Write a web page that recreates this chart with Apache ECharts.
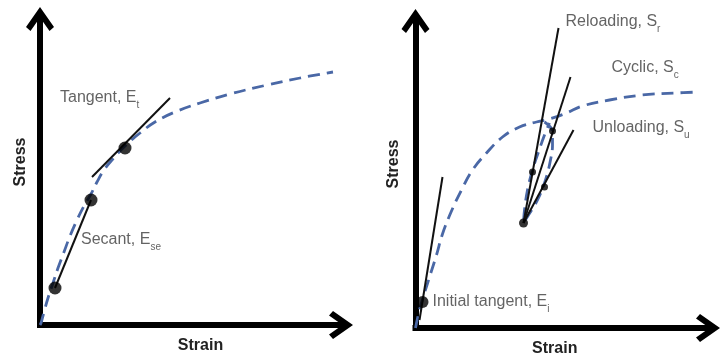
<!DOCTYPE html>
<html><head><meta charset="utf-8">
<script src="https://cdn.jsdelivr.net/npm/echarts@6/dist/echarts.min.js"></script>
<style>html,body{margin:0;padding:0;background:#fff}#c{width:722px;height:362px}</style>
</head><body><div id="c"></div>
<script>
// ---------- Left panel: monotonic stress-strain ----------
const leftCurve = [[0,0],[1,2],[4,13],[8,27],[13,42],[18,57],[24,73],[30,89],[37,105],[44,119],[51,131],[57,143],[64,155],[72,165],[85,179],[100,192],[115,203],[135,213],[160,222],[190,231],[227,240],[260,247],[293,253]];
const secantLine = [[15,37],[51,125]];
const tangentLine = [[52,148],[130,227]];
const leftDots = [[15,37],[51,125],[85,177]];
const leftLabelText = ['Tangent, E{s|t}', 'Secant, E{s|se}'];
const leftLabelAt = [[20,227],[41,85]];

// ---------- Right panel: cyclic stress-strain ----------
const rightCurve = [[0,0],[4,18],[9,35],[15,54],[21,73],[27,94],[36,117],[46,138],[57,158],[71,175],[87,191],[104,201],[121,206],[134,209],[151,215],[167,222],[194,228],[227,233],[260,235],[284,236]];
const cyclicLoop = [[129,206],[137,196],[137,183],[135,168],[130,148],[122,128],[113,113],[108,105],[109,118],[112,138],[117,158],[123,176],[129,193],[134,205]];
const initialTangentLine = [[4,8],[27,151]];
const reloadingLine = [[108,105],[143,300]];
const cyclicLine = [[108,105],[155,251]];
const unloadingLine = [[108,105],[158,198]];
const initialDot = [[7,26]];
const loopDots = [[117,156],[137,197],[129,141]];
const baseDot = [[108,105]];
const rightLabelText = ['Reloading, S{s|r}', 'Cyclic, S{s|c}', 'Unloading, S{s|u}', 'Initial tangent, E{s|i}'];
const rightLabelAt = [[150,306],[196,260],[177,200],[17,26]];

const axisTitles = { x: 'Strain', y: 'Stress' };

// ---------- styles ----------
const FONT = 'Liberation Sans, Arial, sans-serif';
const ARROW = 'path://M14,0 L28,20 L23.5,24 L14,10.5 L4.5,24 L0,20 Z';
const curveStyle = { color: '#4a68a6', width: 2.8, type: [12, 7] };
const blackLine = { color: '#111', width: 2 };
const labelRich = {
  m: { fontSize: 16, fontFamily: FONT, color: '#3c3c3c', lineHeight: 18 },
  s: { fontSize: 10, fontFamily: FONT, color: '#3c3c3c', verticalAlign: 'bottom', lineHeight: 24 }
};

function axisLine() {
  return { show: true, onZero: false, symbol: ['none', ARROW], symbolSize: [28, 24], symbolOffset: [0, -2],
    lineStyle: { color: '#000', width: 6, cap: 'square' } };
}
function xAx(gi, max, pad) {
  return { type: 'value', gridIndex: gi, min: 0, max: max, axisLine: axisLine(), axisTick: { show: false },
    axisLabel: { show: false }, splitLine: { show: false },
    name: axisTitles.x, nameLocation: 'middle', nameGap: 13,
    nameTextStyle: { fontFamily: FONT, fontWeight: 'bold', fontSize: 16, color: '#222', padding: pad } };
}
function yAx(gi, max, gap, pad) {
  return { type: 'value', gridIndex: gi, min: 0, max: max, axisLine: axisLine(), axisTick: { show: false },
    axisLabel: { show: false }, splitLine: { show: false },
    name: axisTitles.y, nameLocation: 'middle', nameGap: gap,
    nameTextStyle: { fontFamily: FONT, fontWeight: 'bold', fontSize: 16, color: '#222', padding: pad } };
}
function lineS(gi, data, style, z) {
  return { type: 'line', xAxisIndex: gi, yAxisIndex: gi, data: data, showSymbol: false, symbol: 'none',
    lineStyle: style, smooth: false, silent: true, z: z || 3, animation: false };
}
function smoothS(gi, data, style) {
  const s = lineS(gi, data, style, 2); s.smooth = 0.4; return s;
}
function dotS(gi, data, size) {
  return { type: 'scatter', xAxisIndex: gi, yAxisIndex: gi, data: data, symbolSize: size,
    itemStyle: { color: '#000' }, silent: true, z: 5, animation: false };
}
function labelS(gi, texts, at) {
  return { type: 'scatter', xAxisIndex: gi, yAxisIndex: gi, clip: false, symbolSize: 0, silent: true, animation: false,
    data: texts.map((t, i) => ({ value: at[i], text: t })),
    label: { show: true, position: 'right', distance: 0,
      formatter: p => '{m|' + p.data.text.replace('{s|', '}{s|'),
      rich: labelRich } };
}

const chart = echarts.init(document.getElementById('c'), null, { renderer: 'canvas' });
chart.setOption({
  backgroundColor: '#fff',
  animation: false,
  grid: [
    { left: 40, top: 17, width: 303, height: 308 },
    { left: 415.5, top: 19, width: 294.5, height: 309 }
  ],
  xAxis: [xAx(0, 303, [0, 0, 0, 18]), xAx(1, 294.5, [0, 16, 0, 0])],
  yAxis: [yAx(0, 308, 11.5, [0, 0, 0, 18]), yAx(1, 309, 13.5, [0, 0, 0, 19])],
  series: [
    smoothS(0, leftCurve, curveStyle),
    lineS(0, secantLine, blackLine),
    lineS(0, tangentLine, blackLine),
    dotS(0, leftDots, 13),
    labelS(0, leftLabelText, leftLabelAt),

    smoothS(1, rightCurve, curveStyle),
    smoothS(1, cyclicLoop, curveStyle),
    lineS(1, initialTangentLine, blackLine),
    lineS(1, reloadingLine, blackLine),
    lineS(1, cyclicLine, blackLine),
    lineS(1, unloadingLine, blackLine),
    dotS(1, initialDot, 12),
    dotS(1, loopDots, 7),
    dotS(1, baseDot, 9),
    labelS(1, rightLabelText, rightLabelAt)
  ]
});
</script></body></html>
